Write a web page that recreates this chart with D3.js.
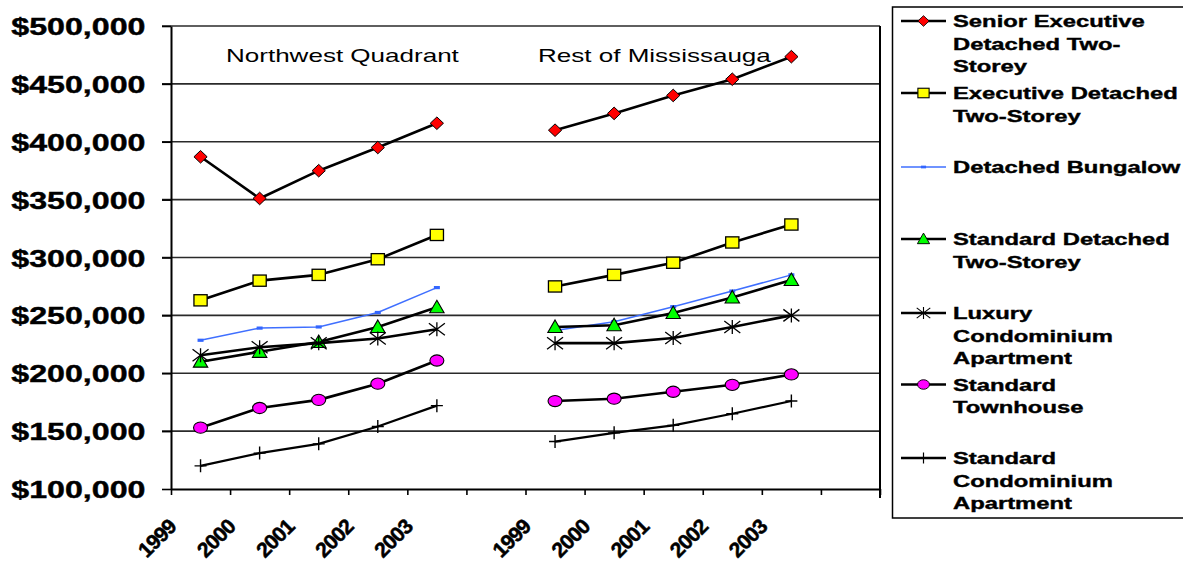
<!DOCTYPE html>
<html><head><meta charset="utf-8">
<script src="https://cdn.jsdelivr.net/npm/d3@7"></script>
<style>html,body{margin:0;padding:0;background:#fff;} svg{display:block;}</style>
</head><body>
<svg id="chart" width="1183" height="564"></svg>
<script>
// ---------- DATA ----------
const categories = ["1999","2000","2001","2002","2003","","1999","2000","2001","2002","2003",""];
const panelTitles = ["Northwest Quadrant","Rest of Mississauga"];
const yTicks = [100000,150000,200000,250000,300000,350000,400000,450000,500000];
const legendLines = [
  ["Senior Executive","Detached Two-","Storey"],
  ["Executive Detached","Two-Storey"],
  ["Detached Bungalow"],
  ["Standard Detached","Two-Storey"],
  ["Luxury","Condominium","Apartment"],
  ["Standard","Townhouse"],
  ["Standard","Condominium","Apartment"]
];
const seniorExecutive  = [387000,351000,375000,395000,416000,null,410000,424500,440000,454000,473500,null];
const executive        = [263000,280000,285000,298500,319500,null,275000,285000,295500,313000,328500,null];
const bungalow         = [228500,239000,240000,252500,274000,null,237000,244500,257500,271000,285000,null];
const standardDetached = [210000,218500,227000,240000,257000,null,240000,241500,252000,265500,280500,null];
const luxuryCondo      = [215500,222500,226000,230000,238000,null,226000,226000,230500,240000,250000,null];
const townhouse        = [153000,170000,177000,191000,211000,null,176000,178000,184000,190000,199000,null];
const standardCondo    = [120000,131000,139000,154000,172000,null,141000,148500,155000,165000,176000,null];

// ---------- STYLE ----------
const seriesList = [
  {values: seniorExecutive,  marker: "diamond",  fill: "#FF0000", line: "#000", lw: 2.6},
  {values: executive,        marker: "square",   fill: "#FFFF00", line: "#000", lw: 2.6},
  {values: bungalow,         marker: "dash",     fill: "#3366FF", line: "#3F6FFF", lw: 1.5},
  {values: standardDetached, marker: "triangle", fill: "#00FF00", line: "#000", lw: 2.6},
  {values: luxuryCondo,      marker: "star",     fill: "none",    line: "#000", lw: 2.6},
  {values: townhouse,        marker: "circle",   fill: "#FF00FF", line: "#000", lw: 2.6},
  {values: standardCondo,    marker: "plus",     fill: "none",    line: "#000", lw: 2.2}
];

const svg = d3.select("#chart");
const FONT = "'Liberation Sans', Arial, Helvetica, sans-serif";
const SX = 1.4; // horizontal stretch of the original picture

const plot = {left: 171, right: 880, top: 26, bottom: 489};

const x = d3.scaleBand().domain(d3.range(categories.length)).range([plot.left, plot.right]).padding(0);
const xEdge = d3.scaleLinear().domain([0, categories.length]).range([plot.left, plot.right]);
const y = d3.scaleLinear().domain([100000, 500000]).range([plot.bottom, plot.top]);
const cx = i => x(i) + x.bandwidth() / 2;

function sText(parent, tx, ty, str, opts) {
  return parent.append("text")
    .attr("transform", `translate(${tx},${ty}) scale(${opts.sx || SX},1)`)
    .attr("text-anchor", opts.anchor || "start")
    .attr("font-family", FONT)
    .attr("font-size", opts.size)
    .attr("font-weight", opts.weight || "normal")
    .attr("fill", "#000")
    .attr("stroke", opts.stroke ? "#000" : null)
    .attr("stroke-width", opts.stroke || null)
    .text(str);
}

// gridlines (excluding bottom axis)
svg.append("g").selectAll("line").data(yTicks.filter(v => v > 100000)).join("line")
  .attr("x1", plot.left - 9).attr("x2", plot.right)
  .attr("y1", d => y(d)).attr("y2", d => y(d))
  .attr("stroke", "#2a2a2a").attr("stroke-width", 1.6);

// y axis with outward ticks
const yAxis = svg.append("g").attr("transform", `translate(${plot.left},0)`)
  .call(d3.axisLeft(y).tickValues(yTicks).tickSize(9).tickSizeOuter(0).tickFormat(""));
yAxis.selectAll("path").attr("stroke", "#000").attr("stroke-width", 2);
yAxis.selectAll("line").attr("stroke", "#000").attr("stroke-width", 1.6);

// y labels
const fmt = d3.format("$,");
yTicks.forEach(v => sText(svg, 145.5, y(v) + 9, fmt(v), {size: 23, weight: "bold", anchor: "end", stroke: 0.4}));

// x axis with ticks at category edges
const xAxis = svg.append("g").attr("transform", `translate(0,${plot.bottom})`)
  .call(d3.axisBottom(xEdge).tickValues(d3.range(categories.length + 1)).tickSize(6).tickSizeOuter(0).tickFormat(""));
xAxis.selectAll("path").attr("stroke", "#000").attr("stroke-width", 2.2);
xAxis.selectAll("line").attr("stroke", "#000").attr("stroke-width", 1.6);

// right border of plot area
svg.append("line").attr("x1", plot.right).attr("x2", plot.right)
  .attr("y1", plot.top).attr("y2", plot.bottom + 9)
  .attr("stroke", "#000").attr("stroke-width", 2);

// x labels (rotated)
categories.forEach((c, i) => {
  if (!c) return;
  svg.append("g")
    .attr("transform", `translate(${cx(i) - 23},528)`)
    .append("text")
    .attr("transform", "rotate(-45)")
    .attr("text-anchor", "end")
    .attr("font-family", FONT).attr("font-size", 21).attr("font-weight", "bold")
    .attr("letter-spacing", -0.8)
    .attr("stroke", "#000").attr("stroke-width", 0.5)
    .text(c);
});

// panel titles
sText(svg, 226, 61.7, panelTitles[0], {size: 18.6});
sText(svg, 538, 61.7, panelTitles[1], {size: 18.6});

// markers
function drawMarker(g, type, fill, px, py, k) {
  k = k || 1;
  const t = `translate(${px},${py}) scale(${k})`;
  switch (type) {
    case "diamond":
      g.append("path").attr("transform", t).attr("d", "M0,-6.3L6.6,0L0,6.3L-6.6,0Z")
        .attr("fill", fill).attr("stroke", "#000").attr("stroke-width", 1); break;
    case "square":
      g.append("rect").attr("transform", t).attr("x", -6.6).attr("y", -5.6).attr("width", 13.2).attr("height", 11.2)
        .attr("fill", fill).attr("stroke", "#000").attr("stroke-width", 1.3); break;
    case "triangle":
      g.append("path").attr("transform", t).attr("d", "M0,-7L7.2,5.5L-7.2,5.5Z")
        .attr("fill", fill).attr("stroke", "#000").attr("stroke-width", 1.1); break;
    case "circle":
      g.append("ellipse").attr("transform", t).attr("rx", 7).attr("ry", 5.6)
        .attr("fill", fill).attr("stroke", "#000").attr("stroke-width", 1.1); break;
    case "star":
      g.append("path").attr("transform", t).attr("d", "M-8,-6L8,6M-8,6L8,-6M0,-7L0,7")
        .attr("fill", "none").attr("stroke", "#000").attr("stroke-width", 1.3); break;
    case "plus":
      g.append("path").attr("transform", t).attr("d", "M-6,0L6,0M0,-6.5L0,6.5")
        .attr("fill", "none").attr("stroke", "#000").attr("stroke-width", 1.4); break;
    case "dash":
      g.append("rect").attr("transform", t).attr("x", -3).attr("y", -1.6).attr("width", 6).attr("height", 3.2)
        .attr("fill", fill); break;
  }
}

const line = d3.line().defined(d => d.v != null).x(d => cx(d.i)).y(d => y(d.v));
seriesList.forEach(s => {
  const g = svg.append("g");
  const pts = s.values.map((v, i) => ({i, v}));
  g.append("path").datum(pts).attr("d", line)
    .attr("fill", "none").attr("stroke", s.line).attr("stroke-width", s.lw).attr("stroke-linejoin", "round");
  pts.filter(d => d.v != null).forEach(d => drawMarker(g, s.marker, s.fill, cx(d.i), y(d.v)));
});

// legend
const lg = svg.append("g");
lg.append("rect").attr("x", 892.5).attr("y", 7).attr("width", 320).attr("height", 511)
  .attr("fill", "#fff").attr("stroke", "#000").attr("stroke-width", 1.5);
const legendRowY = [21, 93, 167, 239, 313, 384.5, 458];
const lineGap = 22.4;
seriesList.forEach((s, k) => {
  const ry = legendRowY[k];
  lg.append("line").attr("x1", 901).attr("x2", 946).attr("y1", ry).attr("y2", ry)
    .attr("stroke", s.line).attr("stroke-width", s.marker === "dash" ? 1.5 : 2.4);
  drawMarker(lg, s.marker, s.fill, 923.5, ry, 0.85);
  legendLines[k].forEach((t, j) => sText(lg, 953, ry + 6.2 + j * lineGap, t, {size: 17, weight: "bold", stroke: 0.4}));
});
</script>
</body></html>
